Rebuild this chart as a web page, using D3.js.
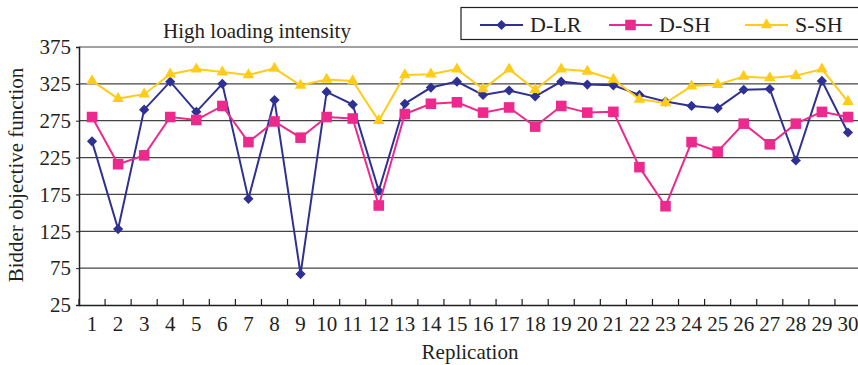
<!DOCTYPE html>
<html>
<head>
<meta charset="utf-8">
<script src="https://cdn.jsdelivr.net/npm/d3@7"></script>
<style>
  body { margin: 0; background: #fff; }
  svg text { font-family: "Liberation Serif", "Times New Roman", serif; fill: #231f20; }
</style>
</head>
<body>
<svg id="chart" width="858" height="365"></svg>
<script>
// values
var replications = d3.range(1, 31);
var dLR = [247, 128, 290, 328, 287, 325, 169, 303, 67, 314, 297, 180, 298, 320, 328,
           310, 316, 308, 328, 324, 323, 310, 301, 295, 292, 317, 318, 221, 329, 259];
var dSH = [280, 216, 228, 280, 276, 295, 246, 274, 252, 280, 278, 160, 284, 298, 300,
           286, 293, 267, 295, 286, 287, 212, 159, 246, 233, 271, 243, 271, 287, 280];
var sSH = [329, 305, 311, 338, 345, 341, 337, 346, 323, 331, 329, 275, 337, 338, 345,
           318, 345, 317, 345, 342, 331, 304, 299, 322, 324, 335, 333, 336, 345, 301];
var yTicks = [25, 75, 125, 175, 225, 275, 325, 375];

// diamond = square turned 45 degrees
var series = [
  {name: "D-LR", values: dLR, color: "#2e3192", shape: d3.symbolSquare, size: 52, rot: 45},
  {name: "D-SH", values: dSH, color: "#ec2a8d", shape: d3.symbolSquare, size: 112, rot: 0},
  {name: "S-SH", values: sSH, color: "#ffcc1a", shape: d3.symbolTriangle, size: 58, rot: 0}
];

var svg = d3.select("#chart");
var plotLeft = 79, plotRight = 861, plotTop = 47, plotBottom = 305;

var x = d3.scaleBand().domain(replications).range([plotLeft, plotRight]);
var y = d3.scaleLinear().domain([25, 375]).range([plotBottom, plotTop]);

// horizontal grid
svg.append("g").selectAll("line")
  .data(yTicks.slice(1))
  .enter().append("line")
  .attr("x1", plotLeft).attr("x2", 858)
  .attr("y1", function(d) { return y(d); })
  .attr("y2", function(d) { return y(d); })
  .attr("stroke", "#444").attr("stroke-width", 1.2);

// y axis
var yAxis = svg.append("g")
  .attr("transform", "translate(" + plotLeft + ",0)")
  .call(d3.axisLeft(y).tickValues(yTicks).tickSize(3).tickPadding(5));
yAxis.select(".domain").attr("stroke", "#231f20").attr("stroke-width", 1.5);
yAxis.selectAll("line").attr("stroke", "#231f20");
yAxis.selectAll("text").attr("font-size", 21).attr("font-family", "Liberation Serif").attr("fill", "#231f20");

// x axis, ticks between categories pointing up
var xAxis = svg.append("g")
  .attr("transform", "translate(0," + plotBottom + ")")
  .call(d3.axisBottom(x).tickSize(0).tickPadding(11));
xAxis.select(".domain").attr("stroke", "#231f20").attr("stroke-width", 1.5);
xAxis.selectAll("text").attr("font-size", 21).attr("font-family", "Liberation Serif").attr("fill", "#231f20");
svg.append("g").selectAll("line")
  .data(replications)
  .enter().append("line")
  .attr("x1", function(d) { return x(d); })
  .attr("x2", function(d) { return x(d); })
  .attr("y1", plotBottom).attr("y2", plotBottom - 6)
  .attr("stroke", "#231f20").attr("stroke-width", 1.2);

var cx = function(d, i) { return x(replications[i]) + x.bandwidth() / 2; };

var line = d3.line()
  .x(function(d, i) { return cx(d, i); })
  .y(function(d) { return y(d); });

series.forEach(function(s) {
  svg.append("path")
    .datum(s.values)
    .attr("fill", "none")
    .attr("stroke", s.color)
    .attr("stroke-width", 2)
    .attr("d", line);

  svg.append("g").selectAll("path")
    .data(s.values)
    .enter().append("path")
    .attr("d", d3.symbol().type(s.shape).size(s.size))
    .attr("transform", function(d, i) {
      return "translate(" + cx(d, i) + "," + y(d) + ") rotate(" + s.rot + ")";
    })
    .attr("fill", s.color);
});

// title
svg.append("text")
  .attr("x", 257).attr("y", 38)
  .attr("text-anchor", "middle")
  .attr("font-size", 21)
  .text("High loading intensity");

// axis titles
svg.append("text")
  .attr("x", 470).attr("y", 359)
  .attr("text-anchor", "middle")
  .attr("font-size", 21)
  .text("Replication");

svg.append("text")
  .attr("transform", "translate(23,175) rotate(-90)")
  .attr("text-anchor", "middle")
  .attr("font-size", 21)
  .text("Bidder objective function");

// legend
var legend = svg.append("g");
legend.append("rect")
  .attr("x", 461).attr("y", 7.5)
  .attr("width", 420).attr("height", 32)
  .attr("fill", "#fff").attr("stroke", "#231f20").attr("stroke-width", 1.2);

var legendX = [480, 609, 745];
series.forEach(function(s, i) {
  var g = legend.append("g").attr("transform", "translate(" + legendX[i] + ",25)");
  g.append("line").attr("x1", 0).attr("x2", 43).attr("y1", 0).attr("y2", 0)
    .attr("stroke", s.color).attr("stroke-width", 2);
  g.append("path")
    .attr("d", d3.symbol().type(s.shape).size(s.size))
    .attr("transform", "translate(21.5,0) rotate(" + s.rot + ")")
    .attr("fill", s.color);
  g.append("text")
    .attr("x", 50).attr("y", 7)
    .attr("font-size", 22)
    .text(s.name);
});
</script>
</body>
</html>
